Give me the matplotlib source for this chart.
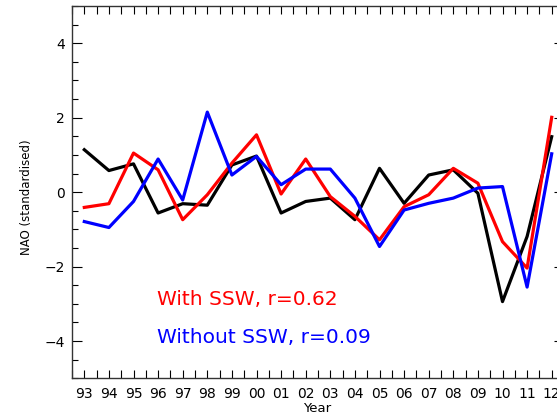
import matplotlib
matplotlib.use("Agg")
import matplotlib.pyplot as plt
from matplotlib.ticker import MultipleLocator, FuncFormatter

years = list(range(1993, 2013))
nao_obs = [1.14, 0.58, 0.76, -0.56, -0.31, -0.35, 0.73, 0.97, -0.56, -0.25,
           -0.16, -0.74, 0.64, -0.30, 0.46, 0.60, -0.03, -2.94, -1.19, 1.49]
nao_with_ssw = [-0.41, -0.31, 1.05, 0.60, -0.74, -0.07, 0.78, 1.54, -0.05, 0.89,
                -0.12, -0.65, -1.28, -0.39, -0.07, 0.64, 0.24, -1.33, -2.04, 2.01]
nao_without_ssw = [-0.79, -0.95, -0.25, 0.89, -0.21, 2.15, 0.46, 0.96, 0.20, 0.62,
                   0.62, -0.16, -1.46, -0.48, -0.30, -0.16, 0.11, 0.15, -2.55, 1.03]
label_with = "With SSW, r=0.62"
label_without = "Without SSW, r=0.09"

W, H = 557, 417
fig = plt.figure(figsize=(W / 100, H / 100), dpi=100)
left, right, bottom, top = 72, 564, 378.3, 6
ax = fig.add_axes([left / W, 1 - bottom / H, (right - left) / W, (bottom - top) / H])

lw = 2.3
ax.plot(years, nao_obs, color="black", lw=lw, zorder=3)
ax.plot(years, nao_with_ssw, color="#ff0000", lw=lw, zorder=4)
ax.plot(years, nao_without_ssw, color="#0000ff", lw=lw, zorder=5)

ax.set_xlim(1992.5, 2012.5)
ax.set_ylim(-5, 5)

ax.xaxis.set_major_locator(MultipleLocator(1))
ax.xaxis.set_minor_locator(MultipleLocator(0.5))
ax.xaxis.set_major_formatter(FuncFormatter(lambda v, p: f"{int(round(v)) % 100:02d}"))
ax.yaxis.set_major_locator(MultipleLocator(2))
ax.yaxis.set_minor_locator(MultipleLocator(0.5))
ax.yaxis.set_major_formatter(FuncFormatter(lambda v, p: f"{int(round(v))}".replace("-", "\u2212")))

ax.tick_params(axis="x", which="both", direction="in", top=True, bottom=True,
               length=5.5, width=0.8, labelsize=10, pad=6.5)
ax.tick_params(axis="y", which="major", direction="in", left=True, right=True,
               length=7.5, width=0.8, labelsize=10, pad=5)
ax.tick_params(axis="y", which="minor", direction="in", left=True, right=True,
               length=4, width=0.8)
for s in ax.spines.values():
    s.set_linewidth(1.0)
    s.set_color("#333333")

fig.text(27 / W, 1 - 197 / H, "NAO (standardised)", rotation=90,
         ha="center", va="center", fontsize=8.5)
fig.text(317 / W, 1 - 409 / H, "Year", ha="center", va="center", fontsize=9.5)

ax.text(0.172, 0.197, label_with, color="#ff0000", fontsize=14.5,
        transform=ax.transAxes, ha="left", va="baseline")
ax.text(0.172, 0.0956, label_without, color="#0000ff", fontsize=14.5,
        transform=ax.transAxes, ha="left", va="baseline")

fig.savefig("out.png", dpi=100)
